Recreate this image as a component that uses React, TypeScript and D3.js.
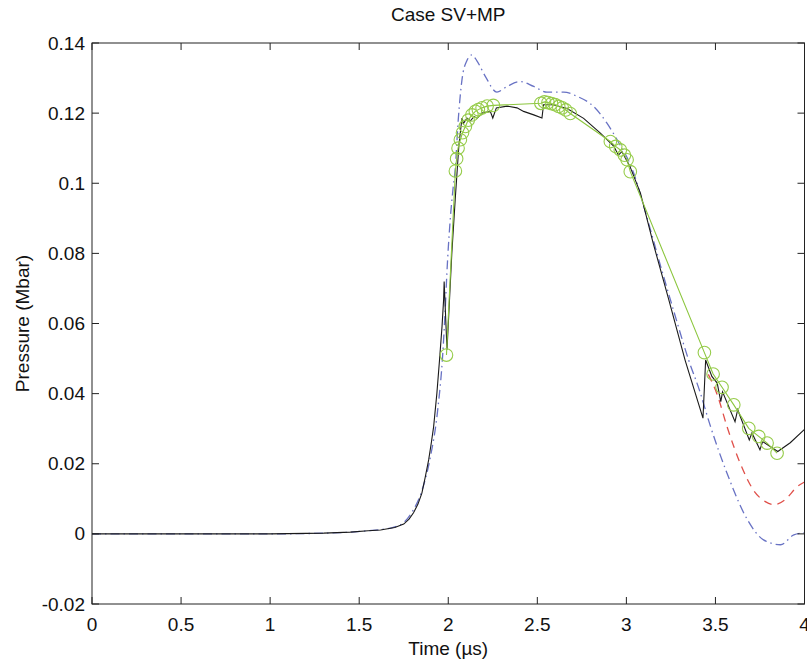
import React from "react";
import * as d3 from "d3";

const title = "Case SV+MP";
const xLabel = "Time (\u00b5s)";
const yLabel = "Pressure (Mbar)";
const xTicks = [0, 0.5, 1, 1.5, 2, 2.5, 3, 3.5, 4];
const xTickLabels = ["0", "0.5", "1", "1.5", "2", "2.5", "3", "3.5", "4"];
const yTicks = [-0.02, 0, 0.02, 0.04, 0.06, 0.08, 0.1, 0.12, 0.14];
const yTickLabels = ["-0.02", "0", "0.02", "0.04", "0.06", "0.08", "0.1", "0.12", "0.14"];

// black solid series
const blackT = [0, 1.0, 1.3, 1.45, 1.55, 1.62, 1.7, 1.75, 1.78, 1.805, 1.83, 1.852, 1.87, 1.89, 1.905, 1.918, 1.936, 1.951, 1.965, 1.974, 1.977, 1.993, 2.02, 2.039, 2.06, 2.077, 2.085, 2.105, 2.125, 2.144, 2.163, 2.19, 2.236, 2.25, 2.27, 2.33, 2.386, 2.423, 2.48, 2.526, 2.535, 2.59, 2.667, 2.76, 2.854, 2.93, 2.955, 2.975, 3.02, 3.079, 3.15, 3.238, 3.33, 3.43, 3.445, 3.48, 3.51, 3.53, 3.54, 3.61, 3.625, 3.69, 3.705, 3.75, 3.765, 3.85, 3.92, 4.0];
const blackP = [0, 0, 0.0002, 0.0005, 0.0009, 0.0011, 0.0018, 0.0028, 0.0042, 0.006, 0.0085, 0.0116, 0.016, 0.0211, 0.026, 0.0306, 0.04, 0.0496, 0.0591, 0.0668, 0.072, 0.0525, 0.08, 0.0953, 0.111, 0.1186, 0.117, 0.1186, 0.1178, 0.119, 0.1186, 0.12, 0.1205, 0.1186, 0.1215, 0.122, 0.1215, 0.1205, 0.1195, 0.1186, 0.1224, 0.1224, 0.1213, 0.1185, 0.1143, 0.1105, 0.108, 0.109, 0.1048, 0.0972, 0.083, 0.0668, 0.0495, 0.033, 0.0496, 0.0449, 0.043, 0.0377, 0.0405, 0.032, 0.0354, 0.0268, 0.0288, 0.024, 0.0263, 0.0235, 0.026, 0.0298];

// blue dash-dot series
const blueT = [0, 1.0, 1.3, 1.45, 1.55, 1.62, 1.7, 1.75, 1.8, 1.85, 1.9, 1.94, 1.97, 1.983, 1.992, 2.011, 2.028, 2.039, 2.056, 2.077, 2.105, 2.133, 2.16, 2.208, 2.273, 2.33, 2.404, 2.48, 2.554, 2.648, 2.723, 2.816, 2.89, 2.948, 3.041, 3.1, 3.2, 3.275, 3.35, 3.41, 3.47, 3.565, 3.68, 3.77, 3.865, 3.94, 4.0];
const blueP = [0, 0, 0.0002, 0.0005, 0.0009, 0.0012, 0.002, 0.0032, 0.0065, 0.012, 0.022, 0.035, 0.052, 0.064, 0.074, 0.0896, 0.099, 0.104, 0.118, 0.1295, 0.135, 0.1366, 0.135, 0.1305, 0.126, 0.1276, 0.129, 0.1276, 0.126, 0.126, 0.1248, 0.1219, 0.1172, 0.1124, 0.1029, 0.093, 0.075, 0.062, 0.0495, 0.041, 0.031, 0.0173, 0.004, -0.0017, -0.0031, -0.0003, 0.0003];

// red dashed series (visible tail)
const redT = [3.46, 3.51, 3.565, 3.64, 3.72, 3.78, 3.83, 3.89, 3.96, 4.0];
const redP = [0.0455, 0.0397, 0.0306, 0.02, 0.012, 0.0092, 0.0083, 0.0097, 0.0135, 0.0148];

// green line with circle markers
const greenT = [1.99, 2.04, 2.047, 2.055, 2.068, 2.08, 2.096, 2.112, 2.133, 2.152, 2.169, 2.19, 2.218, 2.253, 2.52, 2.54, 2.56, 2.58, 2.6, 2.62, 2.64, 2.66, 2.685, 2.91, 2.94, 2.966, 2.989, 3.004, 3.022, 3.438, 3.487, 3.537, 3.603, 3.687, 3.743, 3.79, 3.846];
const greenP = [0.051, 0.1035, 0.107, 0.11, 0.1124, 0.1144, 0.1162, 0.118, 0.1195, 0.1205, 0.121, 0.1215, 0.122, 0.1222, 0.1228, 0.1232, 0.123, 0.1227, 0.1224, 0.1219, 0.1215, 0.1209, 0.1199, 0.1119, 0.1105, 0.1095, 0.108, 0.1067, 0.1033, 0.0517, 0.0456, 0.0418, 0.0368, 0.0301, 0.0278, 0.0259, 0.023];

const W = 807;
const H = 663;
const L = 92, R = 804.5, T = 43, B = 604;

export default function App() {
  const x = d3.scaleLinear().domain([0, 4]).range([L, R]);
  const y = d3.scaleLinear().domain([-0.02, 0.14]).range([B, T]);
  const zip = (ts: number[], ps: number[]) => ts.map((t, i) => [t, ps[i]] as [number, number]);
  const lin = d3.line<[number, number]>().x(d => x(d[0])).y(d => y(d[1]));
  const smooth = d3.line<[number, number]>().x(d => x(d[0])).y(d => y(d[1])).curve(d3.curveMonotoneX);
  const font = "'Liberation Sans', Arial, Helvetica, sans-serif";
  const tickLen = 7;
  const fs = 19;
  const green = d3.zip(greenT, greenP) as [number, number][];

  return (
    <svg width={W} height={H} style={{ position: "absolute", left: 0, top: 0, background: "#fff" }} fontFamily={font}>
      <defs>
        <clipPath id="plotclip">
          <rect x={L} y={T} width={R - L} height={B - T} />
        </clipPath>
      </defs>
      <rect x={0} y={0} width={W} height={H} fill="#fff" />
      <g clipPath="url(#plotclip)" fill="none">
        <path d={smooth(zip(blueT, blueP)) || ""} stroke="#6872c4" strokeWidth={1.3} strokeDasharray="9,4,1.5,4" />
        <path d={smooth(zip(redT, redP)) || ""} stroke="#e0504a" strokeWidth={1.3} strokeDasharray="8,6" />
        <path d={lin(zip(blackT, blackP)) || ""} stroke="#1a1a1a" strokeWidth={1.1} />
        <path d={lin(green) || ""} stroke="#8cc63e" strokeWidth={1.1} />
        {green.map((d, i) => (
          <circle key={i} cx={x(d[0])} cy={y(d[1])} r={6.3} stroke="#96cc4a" strokeWidth={1.1} fill="none" />
        ))}
      </g>
      <rect x={L} y={T} width={R - L} height={B - T} fill="none" stroke="#222" strokeWidth={1} />
      {xTicks.map((t, i) => (
        <g key={"x" + i}>
          <line x1={x(t)} x2={x(t)} y1={B} y2={B - tickLen} stroke="#222" />
          <line x1={x(t)} x2={x(t)} y1={T} y2={T + tickLen} stroke="#222" />
          <text x={x(t)} y={631} textAnchor="middle" fontSize={fs} fill="#111">{xTickLabels[i]}</text>
        </g>
      ))}
      {yTicks.map((t, i) => (
        <g key={"y" + i}>
          <line x1={L} x2={L + tickLen} y1={y(t)} y2={y(t)} stroke="#222" />
          <line x1={R} x2={R - tickLen} y1={y(t)} y2={y(t)} stroke="#222" />
          <text x={85} y={y(t) + 6.5} textAnchor="end" fontSize={fs} fill="#111">{yTickLabels[i]}</text>
        </g>
      ))}
      <text x={(L + R) / 2} y={21} textAnchor="middle" fontSize={fs} fill="#111">{title}</text>
      <text x={(L + R) / 2} y={655} textAnchor="middle" fontSize={fs} fill="#111">{xLabel}</text>
      <text transform={`translate(29,${(T + B) / 2}) rotate(-90)`} textAnchor="middle" fontSize={fs} fill="#111">{yLabel}</text>
    </svg>
  );
}
